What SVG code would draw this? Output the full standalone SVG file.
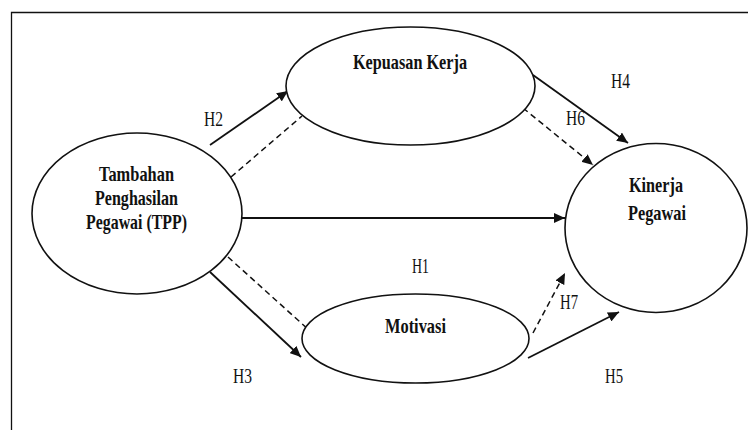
<svg xmlns="http://www.w3.org/2000/svg" width="748" height="430" viewBox="0 0 748 430">
<style>
.node{fill:#fff;stroke:#111;stroke-width:1.6}
.t{font-family:"Liberation Serif","Times New Roman",serif;font-weight:bold;font-size:21px;fill:#111;text-anchor:middle}
.lb{font-family:"Liberation Serif","Times New Roman",serif;font-size:20px;fill:#111}
.c{fill:none;stroke:#111;stroke-width:1.8}
.d{stroke-dasharray:6,4;stroke-width:1.5}
</style>
<defs>
<marker id="ah" markerUnits="userSpaceOnUse" markerWidth="12" markerHeight="10" refX="11" refY="5" orient="auto">
<path d="M0,0 L11,5 L0,10 z" fill="#111" stroke="none"/>
</marker>
</defs>
<rect width="748" height="430" fill="#fff"/>
<path d="M11.5,431 V12.5 H749" fill="none" stroke="#111" stroke-width="1.3"/>
<g id="connectors">
<line class="c" x1="210" y1="145" x2="288" y2="91" marker-end="url(#ah)"/>
<line class="c d" x1="231" y1="177" x2="302" y2="116"/>
<line class="c" x1="242" y1="218" x2="565" y2="218" marker-end="url(#ah)"/>
<line class="c" x1="533" y1="75" x2="628" y2="143" marker-end="url(#ah)"/>
<line class="c d" x1="523" y1="108" x2="593" y2="165" marker-end="url(#ah)"/>
<line class="c" x1="210" y1="272" x2="301" y2="357" marker-end="url(#ah)"/>
<line class="c d" x1="228" y1="257" x2="310" y2="331"/>
<line class="c d" x1="533" y1="333" x2="565" y2="273" marker-end="url(#ah)"/>
<line class="c" x1="528" y1="358" x2="619" y2="312" marker-end="url(#ah)"/>
</g>
<g id="tpp">
<ellipse class="node" cx="137" cy="213.5" rx="105" ry="80.5"/>
<text class="t" x="136.5" y="181" textLength="75" lengthAdjust="spacingAndGlyphs">Tambahan</text>
<text class="t" x="136.5" y="205" textLength="83" lengthAdjust="spacingAndGlyphs">Penghasilan</text>
<text class="t" x="136.5" y="229" textLength="101" lengthAdjust="spacingAndGlyphs">Pegawai (TPP)</text>
</g>
<g id="kepuasan">
<ellipse class="node" cx="410.5" cy="86" rx="124.5" ry="59"/>
<text class="t" x="410" y="69" textLength="114" lengthAdjust="spacingAndGlyphs">Kepuasan Kerja</text>
</g>
<g id="kinerja">
<ellipse class="node" cx="656" cy="228" rx="91" ry="84.5"/>
<text class="t" x="656" y="192" textLength="54" lengthAdjust="spacingAndGlyphs">Kinerja</text>
<text class="t" x="657" y="220" textLength="58" lengthAdjust="spacingAndGlyphs">Pegawai</text>
</g>
<g id="motivasi">
<ellipse class="node" cx="415.5" cy="338.5" rx="113.5" ry="44.5"/>
<text class="t" x="415.5" y="333" textLength="61" lengthAdjust="spacingAndGlyphs">Motivasi</text>
</g>
<g id="labels">
<text class="lb" x="204" y="126" textLength="19" lengthAdjust="spacingAndGlyphs">H2</text>
<text class="lb" x="611" y="88" textLength="19" lengthAdjust="spacingAndGlyphs">H4</text>
<text class="lb" x="566" y="125" textLength="19" lengthAdjust="spacingAndGlyphs">H6</text>
<text class="lb" x="412" y="273" textLength="17" lengthAdjust="spacingAndGlyphs">H1</text>
<text class="lb" x="560" y="309" textLength="18" lengthAdjust="spacingAndGlyphs">H7</text>
<text class="lb" x="233" y="383" textLength="19" lengthAdjust="spacingAndGlyphs">H3</text>
<text class="lb" x="605" y="383" textLength="18" lengthAdjust="spacingAndGlyphs">H5</text>
</g>
</svg>
